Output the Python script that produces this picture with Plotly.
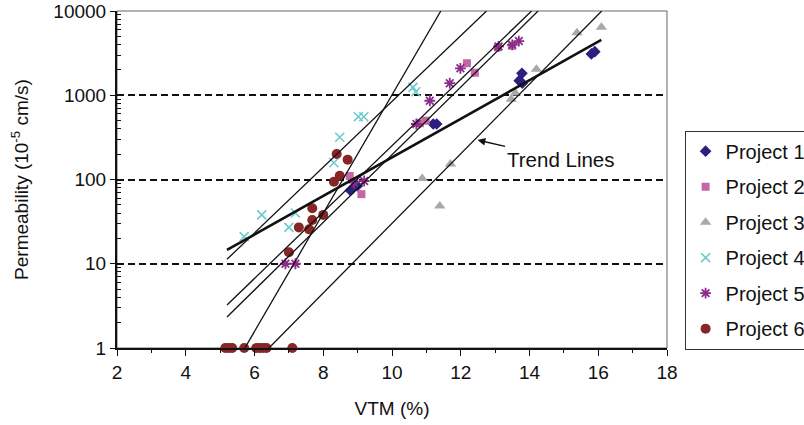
import math
import plotly.graph_objects as go

# VTM (%) vs permeability (1e-5 cm/s) for six projects
p1_vtm = [8.79, 8.99, 11.20, 11.30, 13.70, 13.78, 13.79, 15.80, 15.90]
p1_perm = [74, 84, 456, 456, 1490, 1820, 1390, 3090, 3290]

p2_vtm = [8.77, 9.11, 10.81, 10.98, 12.18, 12.41, 13.08, 13.49]
p2_perm = [110, 67, 465, 499, 2400, 1850, 3710, 3870]

p3_vtm = [10.88, 11.39, 11.70, 13.47, 13.59, 14.20, 15.38, 16.09]
p3_perm = [103, 48.5, 153, 895, 1060, 2030, 5520, 6400]

p4_vtm = [5.70, 6.21, 7.00, 7.19, 8.31, 8.48, 9.02, 9.18, 10.61, 10.69]
p4_perm = [21, 38, 27, 40, 158, 317, 556, 556, 1240, 1100]

p5_vtm = [6.90, 7.19, 8.89, 9.19, 10.71, 11.10, 11.68, 11.99, 13.10, 13.50, 13.69]
p5_perm = [10, 10, 92, 96, 456, 861, 1390, 2090, 3800, 3960, 4400]

p6_vtm = [5.15, 5.25, 5.35, 5.70, 6.05, 6.15, 6.25, 6.35, 7.10,
          7.00, 7.29, 7.59, 7.68, 7.68, 8.00, 8.31, 8.48, 8.39, 8.71]
p6_perm = [1, 1, 1, 1, 1, 1, 1, 1, 1,
           13.7, 27, 25.6, 33, 45.5, 38, 94, 111, 201, 172]

# Exponential trend lines, given by their end points (VTM, permeability)
trend_x0 = [5.20, 5.20, 5.20, 5.20, 5.72, 6.42]
trend_y0 = [14.6, 11.3, 3.24, 2.33, 1.0, 1.0]
trend_x1 = [16.09, 12.75, 14.06, 14.25, 11.42, 16.10]
trend_y1 = [4530, 10000, 10000, 10000, 10000, 10000]
trend_w = [2.6, 1.3, 1.3, 1.3, 1.3, 1.3]

# point on the trend line that the label arrow touches
arrow_vtm = 12.49
arrow_perm = 294

x_ticks = [2, 4, 6, 8, 10, 12, 14, 16, 18]
y_ticks = [1, 10, 100, 1000, 10000]
y_tick_text = ["1", "10", "100", "1000", "10000"]

FONT = "Liberation Sans, Arial, sans-serif"

series = [
    ("Project 1", p1_vtm, p1_perm, dict(symbol="diamond", size=9, color="#2B2080")),
    ("Project 2", p2_vtm, p2_perm, dict(symbol="square", size=8, color="#C466A8")),
    ("Project 3", p3_vtm, p3_perm, dict(symbol="triangle-up", size=10, color="#A9A9A9")),
    ("Project 4", p4_vtm, p4_perm, dict(symbol="x-thin-open", size=9, color="#6CCCCC",
                                        line=dict(width=1.6, color="#6CCCCC"))),
    ("Project 5", p5_vtm, p5_perm, dict(symbol="asterisk-open", size=9, color="#8B2C8B",
                                        line=dict(width=1.8, color="#8B2C8B"))),
    ("Project 6", p6_vtm, p6_perm, dict(symbol="circle", size=10, color="#862626")),
]

fig = go.Figure()

for name, xs, ys, mk in series:
    fig.add_trace(go.Scatter(
        x=xs, y=ys, mode="markers", name=name, marker=mk,
        legendgroup=name, cliponaxis=False,
    ))

for x0, y0, x1, y1, w in zip(trend_x0, trend_y0, trend_x1, trend_y1, trend_w):
    fig.add_trace(go.Scatter(
        x=[x0, x1], y=[y0, y1], mode="lines",
        line=dict(color="#111111", width=w),
        showlegend=False, hoverinfo="skip",
    ))

# plot frame (top and right edges)
fig.add_shape(type="rect", xref="paper", yref="paper", x0=0, y0=0, x1=1, y1=1,
              line=dict(color="#666666", width=1), layer="below")

# annotation positions on a log axis are given in log10 units
fig.add_annotation(
    x=arrow_vtm, y=math.log10(arrow_perm), xref="x", yref="y",
    text="Trend Lines", showarrow=True,
    arrowhead=2, arrowsize=1.1, arrowwidth=1.4, arrowcolor="#111111",
    ax=83, ay=19, font=dict(family=FONT, size=20.5, color="#111111"),
)

fig.update_layout(
    width=804, height=425,
    margin=dict(l=117, r=137, t=11, b=77, autoexpand=False),
    paper_bgcolor="white", plot_bgcolor="white",
    font=dict(family=FONT, size=19, color="#111111"),
    showlegend=True,
    legend=dict(
        x=1.032, y=0.645, xanchor="left", yanchor="top",
        bordercolor="#333333", borderwidth=1, bgcolor="white",
        font=dict(family=FONT, size=20, color="#111111"),
        tracegroupgap=6.5, itemwidth=30,
    ),
)

fig.update_xaxes(
    range=[2, 18], tickvals=x_ticks, ticktext=[str(v) for v in x_ticks],
    ticks="outside", ticklen=6, tickwidth=1, tickcolor="#111111",
    minor=dict(ticks="outside", ticklen=3, dtick=1, tickcolor="#111111"),
    showline=True, linecolor="#111111", linewidth=1.5,
    showgrid=False, zeroline=False,
    title=dict(text="VTM (%)", standoff=20, font=dict(size=19)),
)

minor_y = [m * 10 ** k for k in range(4) for m in range(2, 10)]

fig.update_yaxes(
    type="log", range=[0, 4],
    tickvals=y_ticks, ticktext=y_tick_text,
    ticks="outside", ticklen=5, tickwidth=1, tickcolor="#111111",
    minor=dict(ticks="inside", ticklen=4, tickvals=minor_y, tickcolor="#111111", showgrid=False),
    showline=True, linecolor="#111111", linewidth=2,
    showgrid=True, gridcolor="#111111", gridwidth=1.5, griddash="7px,4px",
    zeroline=False,
    title=dict(text="Permeability (10<sup>-5</sup> cm/s)", standoff=20, font=dict(size=19)),
)

fig.write_html("out.html")
